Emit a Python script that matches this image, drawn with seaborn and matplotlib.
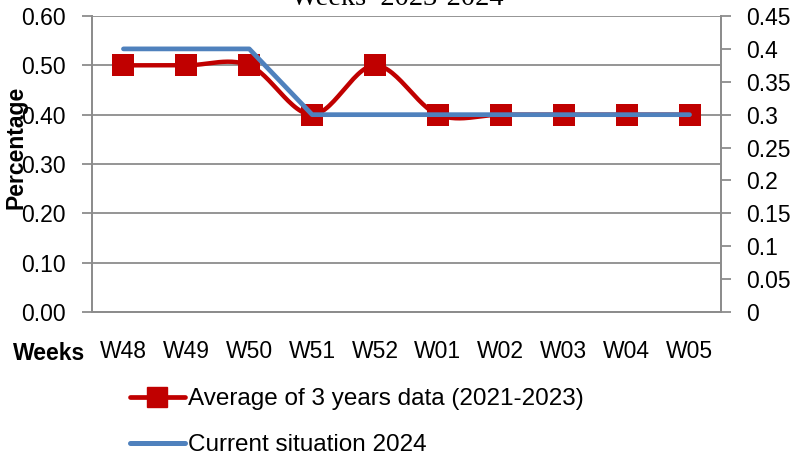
import numpy as np
import pandas as pd
import matplotlib
matplotlib.use("Agg")
import matplotlib.pyplot as plt
from matplotlib.lines import Line2D
import seaborn as sns

# dati
weeks = ["W48", "W49", "W50", "W51", "W52", "W01", "W02", "W03", "W04", "W05"]
avg_3_years = [0.50, 0.50, 0.50, 0.40, 0.50, 0.40, 0.40, 0.40, 0.40, 0.40]
current_2024 = [0.40, 0.40, 0.40, 0.30, 0.30, 0.30, 0.30, 0.30, 0.30, 0.30]

sns.set_theme(style="white")
plt.rcParams['font.family'] = ['Liberation Sans', 'DejaVu Sans']
plt.rcParams['text.color'] = 'black'

red = '#C00000'
blue = '#4F81BD'
grid_col = '#8C8C8C'
fs = 16.5


def smooth(y, n=30):
    # curva morbida tipo Excel (Catmull-Rom)
    y = np.asarray(y, dtype=float)
    x = np.arange(len(y), dtype=float)
    xp = np.concatenate([[x[0]], x, [x[-1]]])
    yp = np.concatenate([[y[0]], y, [y[-1]]])
    xs, ys = [], []
    for i in range(1, len(xp) - 2):
        p0, p1, p2, p3 = [np.array([xp[j], yp[j]]) for j in (i - 1, i, i + 1, i + 2)]
        c1 = p1 + (p2 - p0) / 6
        c2 = p2 - (p3 - p1) / 6
        t = np.linspace(0, 1, n)[:, None]
        pts = (1 - t) ** 3 * p1 + 3 * (1 - t) ** 2 * t * c1 + 3 * (1 - t) * t ** 2 * c2 + t ** 3 * p2
        xs.extend(pts[:, 0])
        ys.extend(pts[:, 1])
    return np.array(xs), np.array(ys)


fig = plt.figure(figsize=(7.95, 4.57), dpi=100)
ax = fig.add_axes([92 / 795, 1 - 312 / 457, (721 - 92) / 795, (312 - 16) / 457])
ax2 = ax.twinx()

xs, ys = smooth(avg_3_years)
df_red = pd.DataFrame({'x': xs, 'y': ys})
sns.lineplot(data=df_red, x='x', y='y', ax=ax, color=red, linewidth=3.2, sort=False, zorder=3)
df_pts = pd.DataFrame({'x': np.arange(len(weeks)), 'y': avg_3_years})
sns.scatterplot(data=df_pts, x='x', y='y', ax=ax, marker='s', s=230, color=red,
                edgecolor=red, linewidth=0, zorder=4)

df_blue = pd.DataFrame({'x': np.arange(len(weeks)), 'y': current_2024})
sns.lineplot(data=df_blue, x='x', y='y', ax=ax2, color=blue, linewidth=3.4,
             solid_capstyle='round', zorder=5)

# asse sinistro
ax.set_xlim(-0.5, len(weeks) - 0.5)
ax.set_ylim(0, 0.60)
ax.set_yticks(np.arange(0, 0.61, 0.1))
ax.set_yticklabels([f"{v:.2f}" for v in np.arange(0, 0.61, 0.1)], fontsize=fs)
ax.set_xticks(np.arange(len(weeks)))
ax.set_xticklabels(weeks, fontsize=fs)
ax.set_xticks(np.arange(-0.5, len(weeks)), minor=True)
ax.tick_params(axis='x', which='major', length=0, pad=20)
ax.tick_params(axis='x', which='minor', length=6, color=grid_col, width=1.3, direction='out')
ax.tick_params(axis='y', length=7, color=grid_col, width=1.3, direction='out', pad=12)
ax.set_xlabel('')
ax.set_ylabel('')
ax.yaxis.grid(True, color=grid_col, linewidth=1.3)
ax.set_axisbelow(True)

# asse destro
ax2.set_ylim(0, 0.45)
rticks = np.arange(0, 0.451, 0.05)
ax2.set_yticks(rticks)
ax2.set_yticklabels([f"{v:g}" for v in np.round(rticks, 2)], fontsize=fs)
ax2.tick_params(axis='y', length=7, color=grid_col, width=1.3, direction='out', pad=11)
ax2.set_ylabel('')
ax2.grid(False)

for a in (ax, ax2):
    a.spines['top'].set_visible(False)
    for s in ('left', 'right', 'bottom'):
        a.spines[s].set_color(grid_col)
        a.spines[s].set_linewidth(1.3)
    a.tick_params(colors='black', which='both', labelcolor='black')
ax.tick_params(axis='both', which='both', color=grid_col)
ax2.tick_params(axis='y', color=grid_col)

# titolo (tagliato in alto come nell'originale)
fig.text(0.5, 1 - 5 / 457, 'Weeks  2023-2024', ha='center', va='baseline',
         fontsize=20.5, family=['Liberation Serif', 'DejaVu Serif'])

fig.text(13 / 795, 1 - 353 / 457, 'Weeks', ha='left', va='center', fontsize=fs, fontweight='bold')
fig.text(16 / 795, 1 - 147 / 457, 'Percentage', ha='center', va='center', rotation=90,
         fontsize=fs, fontweight='bold')

# legenda
handles = [
    Line2D([], [], color=red, linewidth=3.4, marker='s', markersize=15),
    Line2D([], [], color=blue, linewidth=3.6),
]
labels = ['Average of 3 years data (2021-2023)', 'Current situation 2024']
fig.legend(handles, labels, loc='upper left', bbox_to_anchor=(130 / 795, 1 - 388 / 457),
           frameon=False, fontsize=fs + 1, handlelength=2.25, handletextpad=0.15,
           labelspacing=1.0, borderpad=0, borderaxespad=0, labelcolor='black')

plt.savefig('out.png', dpi=100)
